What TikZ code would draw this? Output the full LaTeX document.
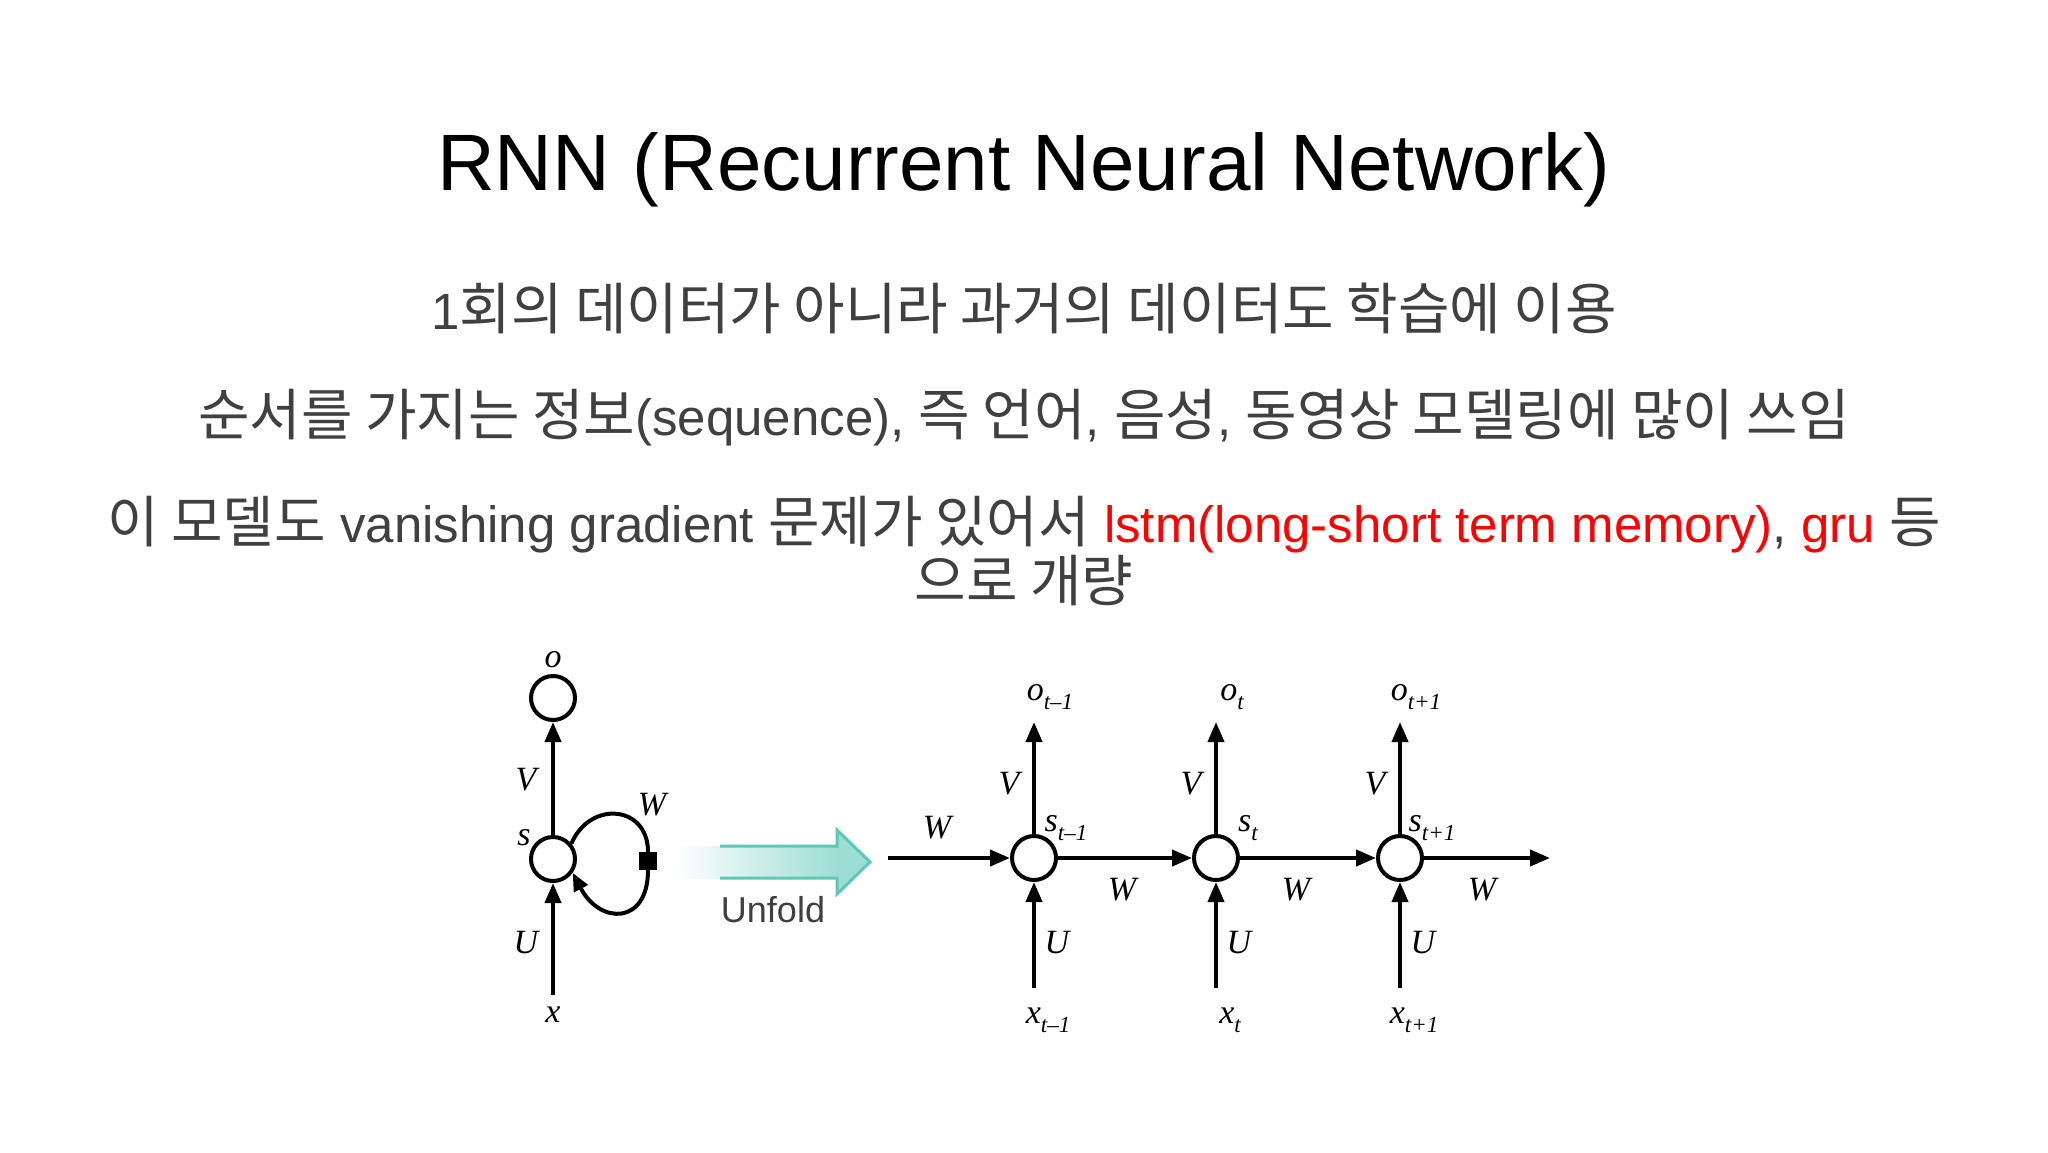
\documentclass[tikz,border=0pt]{standalone}
\usepackage{fontspec}
\setmainfont{Liberation Sans}
\newfontfamily\kr{Noto Sans CJK KR}
\newfontfamily\lat{Liberation Sans}
\newfontfamily\dserif{Liberation Serif}
\usetikzlibrary{arrows.meta}
\definecolor{txt}{HTML}{404040}
\definecolor{teal1}{HTML}{5CC8B8}
\newcommand{\K}[1]{{\kr\fontsize{56}{60}\selectfont #1}}
\newcommand{\sublab}[2]{{\dserif\itshape\fontsize{34}{34}\selectfont #1}\raisebox{-9pt}{\dserif\itshape\fontsize{23}{23}\selectfont #2}}
\begin{document}
\begin{tikzpicture}[x=1pt,y=-1pt,
  body/.style={text=txt,font=\fontsize{51}{60}\selectfont,inner sep=0},
  cell/.style={circle,draw,line width=4pt,minimum size=44pt,inner sep=0},
  lab/.style={font=\dserif\itshape\fontsize{34}{34}\selectfont,inner sep=1pt},
  arr/.style={line width=4pt,-{Triangle[length=20pt,width=16pt]}}]
\useasboundingbox (0,0) rectangle (2048,1152);
\fill[white] (0,0) rectangle (2048,1152);
\node[font=\fontsize{80}{100}\selectfont,inner sep=0] (title) at (1024,170) {RNN (Recurrent Neural Network)};
\node[body] (l1) at (1024,308) {1\K{회의 데이터가 아니라 과거의 데이터도 학습에 이용}};
\node[body] (l2) at (1024,418) {\K{순서를 가지는 정보}(sequence), \K{즉 언어}, \K{음성}, \K{동영상 모델링에 많이 쓰임}};
\node[body] (l3) at (1024,525) {\K{이 모델도} vanishing gradient \K{문제가 있어서} \textcolor{red}{lstm(long-short term memory)}, \textcolor{red}{gru} \K{등}};
\node[body] (l4) at (1024,581) {\K{으로 개량}};
% folded
\node[cell] (o) at (553,698) {};
\node[cell] (s) at (553,859) {};
\coordinate (xin) at (553,995);
\node[lab] (ol) at (553,660) {o};
\node[lab] (xl) at (553,1015) {x};
\node[lab] (sl) at (524,838) {s};
\node[lab] (Vl) at (526,780) {V};
\node[lab] (Ul) at (526,943) {U};
\node[lab] (Wl) at (652,805) {W};
\draw[arr] (s) -- (o);
\draw[arr] (xin) -- (s);
\node[fill=black,minimum size=18pt,inner sep=0] (sq) at (648,861) {};
\draw[line width=4pt] (s.40) .. controls (590,800) and (648,805) .. (sq.north);
\draw[line width=4pt,-{Triangle[length=18pt,width=15pt]}] (sq.south) .. controls (648,925) and (600,925) .. (s.-35);
% unfold arrow
\shade[left color=white,right color=teal1!60] (676,846) rectangle (838,878);
\fill[teal1!60] (837,830) -- (870,862) -- (837,894) -- cycle;
\draw[teal1,line width=3pt,line join=miter] (720,846) -- (837,846) -- (837,830) -- (870,862) -- (837,894) -- (837,878) -- (720,878);
\node[font=\fontsize{36}{36}\selectfont,text=txt] (unf) at (773,910) {Unfold};
% unrolled
\coordinate (win) at (888,858);
\node[lab] (w0) at (937,828) {W};
\foreach \i/\x/\sub in {a/1034/t\textendash 1, b/1216/t, c/1400/t+1}{
  \node[cell] (s\i) at (\x,858) {};
  \coordinate (o\i) at (\x,722);
  \coordinate (x\i) at (\x,988);
  \node[inner sep=0] at (\x+16,697) {\sublab{o}{\sub}};
  \node[inner sep=0] at (\x+14,1020) {\sublab{x}{\sub}};
  \node[inner sep=0] at (\x+32,828) {\sublab{s}{\sub}};
  \node[lab] at (\x-25,784) {V};
  \node[lab] at (\x+23,943) {U};
  \draw[arr] (s\i) -- (o\i);
  \draw[arr] (x\i) -- (s\i);
}
\coordinate (wout) at (1550,858);
\draw[arr] (win) -- (sa);
\draw[arr] (sa) -- (sb);
\draw[arr] (sb) -- (sc);
\draw[arr] (sc) -- (wout);
\node[lab] at (1122,890) {W};
\node[lab] at (1296,890) {W};
\node[lab] at (1482,890) {W};
\end{tikzpicture}
\end{document}
